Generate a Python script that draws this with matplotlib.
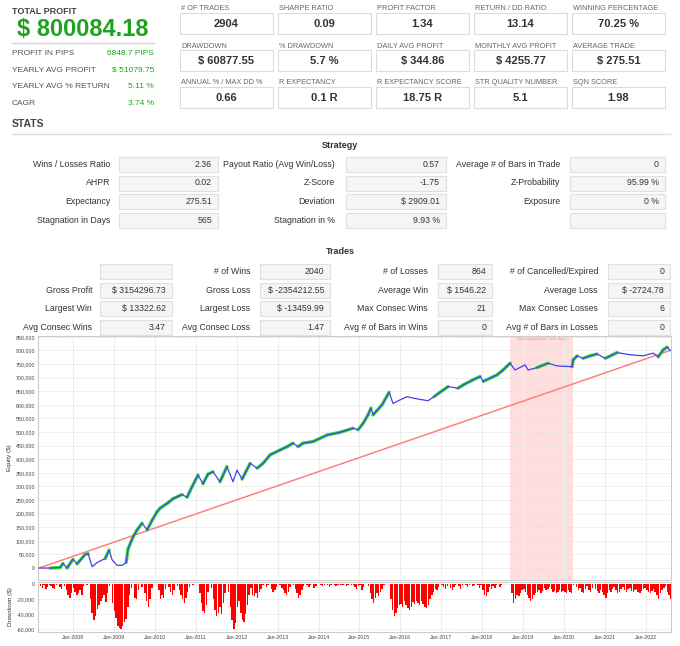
import numpy as np
import pandas as pd
import matplotlib
matplotlib.use("Agg")
import matplotlib.pyplot as plt
import matplotlib.dates as mdates
from matplotlib.patches import Rectangle
from matplotlib.lines import Line2D
from matplotlib.collections import LineCollection
from matplotlib.ticker import FuncFormatter, MultipleLocator

plt.rcParams['font.family'] = ['Liberation Sans', 'DejaVu Sans']

# ---------------- data ----------------
total_profit = "$ 800084.18"
summary_labels = ["PROFIT IN PIPS", "YEARLY AVG PROFIT", "YEARLY AVG % RETURN", "CAGR"]
summary_values = ["6848.7 PIPS", "$ 51079.75", "5.11 %", "3.74 %"]

metric_labels = ["# OF TRADES", "SHARPE RATIO", "PROFIT FACTOR", "RETURN / DD RATIO", "WINNING PERCENTAGE",
                 "DRAWDOWN", "% DRAWDOWN", "DAILY AVG PROFIT", "MONTHLY AVG PROFIT", "AVERAGE TRADE",
                 "ANNUAL % / MAX DD %", "R EXPECTANCY", "R EXPECTANCY SCORE", "STR QUALITY NUMBER", "SQN SCORE"]
metric_values = ["2904", "0.09", "1.34", "13.14", "70.25 %",
                 "$ 60877.55", "5.7 %", "$ 344.86", "$ 4255.77", "$ 275.51",
                 "0.66", "0.1 R", "18.75 R", "5.1", "1.98"]

strategy_labels = [["Wins / Losses Ratio", "Payout Ratio (Avg Win/Loss)", "Average # of Bars in Trade"],
                   ["AHPR", "Z-Score", "Z-Probability"],
                   ["Expectancy", "Deviation", "Exposure"],
                   ["Stagnation in Days", "Stagnation in %", ""]]
strategy_values = [["2.36", "0.57", "0"],
                   ["0.02", "-1.75", "95.99 %"],
                   ["275.51", "$ 2909.01", "0 %"],
                   ["565", "9.93 %", ""]]

trades_labels = [["", "# of Wins", "# of Losses", "# of Cancelled/Expired"],
                 ["Gross Profit", "Gross Loss", "Average Win", "Average Loss"],
                 ["Largest Win", "Largest Loss", "Max Consec Wins", "Max Consec Losses"],
                 ["Avg Consec Wins", "Avg Consec Loss", "Avg # of Bars in Wins", "Avg # of Bars in Losses"]]
trades_values = [["", "2040", "864", "0"],
                 ["$ 3154296.73", "$ -2354212.55", "$ 1546.22", "$ -2724.78"],
                 ["$ 13322.62", "$ -13459.99", "21", "6"],
                 ["3.47", "1.47", "0", "0"]]

equity_dates = ["2007-03-06", "2007-06-13", "2007-09-10", "2007-10-06", "2007-11-11", "2008-01-03",
                "2008-02-08", "2008-04-20", "2008-05-17", "2008-06-22", "2008-08-05", "2008-10-16",
                "2008-11-20", "2008-12-17", "2009-01-30", "2009-03-16", "2009-04-21", "2009-05-08",
                "2009-06-22", "2009-07-28", "2009-09-10", "2009-10-25", "2009-12-08", "2010-01-22",
                "2010-02-18", "2010-04-30", "2010-06-13", "2010-09-02", "2010-10-16", "2010-11-30",
                "2011-01-22", "2011-03-07", "2011-04-21", "2011-06-05", "2011-08-06", "2011-10-07",
                "2011-11-30", "2012-01-05", "2012-02-19", "2012-05-01", "2012-07-02", "2012-08-24",
                "2012-10-26", "2013-01-23", "2013-03-26", "2013-05-19", "2013-07-02", "2013-08-16",
                "2013-11-13", "2014-03-18", "2014-07-12", "2014-11-05", "2014-12-19", "2015-02-02",
                "2015-03-18", "2015-04-14", "2015-05-02", "2015-07-21", "2015-09-22", "2015-10-27",
                "2015-12-28", "2016-02-29", "2016-05-01", "2016-09-03", "2016-10-27", "2016-12-19",
                "2017-03-01", "2017-05-29", "2017-07-13", "2017-10-10", "2017-12-12", "2018-01-08",
                "2018-05-12", "2018-07-04", "2018-09-05", "2018-10-19", "2019-01-17", "2019-02-13",
                "2019-05-04", "2019-08-10", "2019-10-29", "2020-03-11", "2020-03-20", "2020-04-25",
                "2020-06-17", "2020-08-19", "2020-10-20", "2021-01-01", "2021-04-17", "2021-08-11",
                "2021-12-05", "2022-03-04", "2022-04-18", "2022-06-01", "2022-07-07", "2022-08-03"]
equity_k = [0, 0, 2, 17, 0, 32,
            15, 50, 53, 5, 20, 35,
            66, 30, 10, 10, 20, 70,
            115, 140, 165, 140, 175, 207,
            220, 240, 255, 270, 260, 299,
            342, 310, 345, 354, 317, 373,
            317, 360, 327, 385, 367, 385,
            416, 434, 446, 459, 446, 459,
            465, 489, 499, 514, 508, 532,
            563, 588, 563, 600, 646, 605,
            618, 630, 624, 615, 630, 646,
            667, 661, 673, 692, 704, 686,
            710, 728, 753, 728, 747, 728,
            737, 753, 743, 740, 765, 780,
            771, 780, 787, 771, 792, 784,
            780, 790, 776, 802, 812, 800]

dd_start = "2007-03-01"   # semi-monthly drawdown samples, in thousands of $
drawdown_k = [
    # 2007 (Mar-Dec)
    0, 3, 5, 2, 6, 4, 1, 3, 5, 6, 2, 0, 4, 6, 0, 3, 8, 14, 19, 12,
    # 2008
    5, 10, 15, 12, 8, 14, 3, 0, 2, 0, 20, 38, 48, 42, 33, 28, 22, 18, 15, 24, 12, 3, 0, 25,
    # 2009
    36, 45, 55, 58, 60, 56, 50, 46, 30, 15, 5, 0, 18, 20, 8, 0, 4, 0, 12, 22, 30, 20, 5, 0,
    # 2010
    0, 0, 8, 20, 14, 18, 6, 0, 4, 10, 15, 8, 0, 3, 8, 14, 20, 25, 18, 10, 4, 0, 2, 0,
    # 2011
    0, 0, 12, 25, 36, 38, 28, 10, 0, 5, 20, 35, 42, 38, 30, 40, 25, 12, 0, 10, 30, 48, 60, 52,
    # 2012
    30, 22, 38, 48, 50, 40, 28, 15, 5, 14, 16, 12, 18, 10, 6, 2, 0, 4, 2, 0, 6, 10, 8, 4,
    # 2013
    0, 2, 5, 8, 12, 15, 10, 4, 0, 2, 6, 12, 18, 14, 8, 3, 0, 2, 4, 2, 0, 5, 3, 0,
    # 2014
    0, 2, 3, 1, 0, 2, 4, 2, 0, 1, 3, 2, 0, 2, 1, 0, 3, 2, 0, 1, 2, 4, 6, 3,
    # 2015
    2, 8, 4, 0, 0, 3, 12, 20, 25, 18, 12, 16, 10, 6, 2, 0, 0, 0, 20, 35, 42, 38, 32, 28,
    # 2016
    26, 30, 22, 28, 32, 35, 30, 24, 26, 22, 25, 28, 22, 26, 30, 32, 28, 20, 15, 10, 6, 8, 4, 0,
    # 2017
    2, 4, 6, 3, 0, 5, 8, 4, 2, 0, 3, 6, 2, 0, 1, 4, 2, 0, 3, 1, 0, 2, 5, 1,
    # 2018
    8, 14, 16, 10, 4, 6, 3, 5, 2, 0, 4, 2, 0, 0, 0, 0, 0, 12, 25, 20, 14, 16, 12, 8,
    # 2019
    6, 10, 14, 18, 22, 20, 15, 12, 10, 8, 12, 9, 5, 8, 6, 4, 7, 10, 9, 12, 10, 8, 11, 9,
    # 2020
    10, 12, 8, 10, 12, 2, 0, 4, 8, 5, 10, 12, 6, 3, 8, 10, 5, 0, 6, 9, 12, 8, 10, 15,
    # 2021
    18, 12, 8, 10, 6, 4, 8, 12, 10, 6, 4, 8, 10, 7, 5, 9, 11, 8, 6, 10, 12, 9, 7, 5,
    # 2022 (Jan-Aug)
    8, 10, 12, 9, 6, 10, 14, 20, 12, 8, 5, 3, 10, 14, 20, 18,
]

stagnation_start = "2018-09-05"
stagnation_end = "2020-03-22"
stagnation_text = "Max stagnation: 565 days"

# ---------------- figure ----------------
W, H = 680, 646
fig = plt.figure(figsize=(W / 100, H / 100), dpi=100)
fig.patch.set_facecolor("white")


def fx(x):
    return x / W


def fy(y):
    return 1 - y / H


def txt(x, y, s, **kw):
    kw.setdefault("va", "center")
    fig.text(fx(x), fy(y), s, **kw)


def box(x0, y0, x1, y1, fc="white", ec="#dcdcdc"):
    fig.patches.append(Rectangle((fx(x0), fy(y1)), fx(x1) - fx(x0), fy(y0) - fy(y1),
                                 transform=fig.transFigure, facecolor=fc, edgecolor=ec,
                                 linewidth=0.8, zorder=1))


def hline(x0, x1, y, color="#dddddd", lw=1.0):
    fig.lines.append(Line2D([fx(x0), fx(x1)], [fy(y), fy(y)], transform=fig.transFigure,
                            color=color, linewidth=lw))


GREEN = "#1fa31f"

# Total profit block
txt(12, 12, "TOTAL PROFIT", fontsize=6.5, fontweight="bold", color="#444444")
txt(17, 30, total_profit, fontsize=17, fontweight="bold", color=GREEN)
hline(12, 154, 43, color="#d5d5d5")
for i, (lab, val) in enumerate(zip(summary_labels, summary_values)):
    y = 53.5 + i * 16.7
    txt(12, y, lab, fontsize=6, color="#555555")
    txt(154, y, val, fontsize=6, color=GREEN, ha="right")

# metric boxes
col_x = [180, 278, 376, 474, 572]
row_label_y = [9, 46, 83]
for k, (lab, val) in enumerate(zip(metric_labels, metric_values)):
    r, c = divmod(k, 5)
    x0 = col_x[c]
    ly = row_label_y[r]
    txt(x0 + 1, ly, lab, fontsize=5.3, color="#666666")
    box(x0, ly + 4, x0 + 93, ly + 25)
    txt(x0 + 46.5, ly + 15, val, fontsize=8, fontweight="bold", color="#333333", ha="center")

txt(12, 124, "STATS", fontsize=7.5, fontweight="bold", color="#444444")
hline(12, 670, 134)

# Strategy table
txt(340, 145, "Strategy", fontsize=6.5, fontweight="bold", color="#333333", ha="center")
s_box = [(119, 218), (346, 446), (570, 665)]
s_lab = [110, 335, 560]
for r in range(4):
    y = 164.3 + r * 18.7
    for c in range(3):
        box(s_box[c][0], y - 7.5, s_box[c][1], y + 7.5, fc="#f5f5f5", ec="#e0e0e0")
        if strategy_labels[r][c]:
            txt(s_lab[c], y, strategy_labels[r][c], fontsize=6.3, color="#333333", ha="right")
        if strategy_values[r][c]:
            txt(s_box[c][1] - 6, y, strategy_values[r][c], fontsize=6.3, color="#333333", ha="right")

# Trades table
txt(340, 251.5, "Trades", fontsize=6.5, fontweight="bold", color="#333333", ha="center")
t_box = [(100, 172), (260, 330), (438, 492), (608, 670)]
t_lab = [92, 250, 428, 598]
for r in range(4):
    y = 271.7 + r * 18.5
    for c in range(4):
        box(t_box[c][0], y - 7.5, t_box[c][1], y + 7.5, fc="#f5f5f5", ec="#e0e0e0")
        if trades_labels[r][c]:
            txt(t_lab[c], y, trades_labels[r][c], fontsize=6.3, color="#333333", ha="right")
        if trades_values[r][c]:
            txt(t_box[c][1] - 6, y, trades_values[r][c], fontsize=6.3, color="#333333", ha="right")

# ---------------- charts ----------------
eq_dates = mdates.date2num(pd.to_datetime(equity_dates))
eq = np.array(equity_k, dtype=float) * 1000
dd_dates = mdates.date2num(pd.date_range(dd_start, periods=len(drawdown_k), freq="SMS"))
dd = -np.array(drawdown_k, dtype=float) * 1000

xmin = mdates.date2num(pd.Timestamp("2007-02-25"))
xmax = mdates.date2num(pd.Timestamp("2022-08-10"))

ax = fig.add_axes([fx(38), fy(580), fx(671) - fx(38), fy(336) - fy(580)])
ax2 = fig.add_axes([fx(38), fy(632), fx(671) - fx(38), fy(582) - fy(632)])

for a in (ax, ax2):
    a.set_xlim(xmin, xmax)
    for s in a.spines.values():
        s.set_color("#cccccc")
        s.set_linewidth(0.8)
    a.xaxis.set_major_locator(mdates.YearLocator(1, month=1, day=1))
    a.grid(axis="x", color="#eeeeee", linewidth=0.8, linestyle="-")
    a.grid(axis="y", color="#dddddd", linewidth=0.6, linestyle=(0, (1.5, 1.5)))
    a.set_axisbelow(True)
    a.tick_params(labelsize=3.8, colors="#444444", length=0, pad=2)

ax.set_ylim(-44000, 853000)
ax.yaxis.set_major_locator(MultipleLocator(50000))
ax.yaxis.set_major_formatter(FuncFormatter(lambda v, p: f"{int(v):,}" if v >= 0 else ""))
ax.tick_params(axis="x", labelbottom=False)

# stagnation band
s0 = mdates.date2num(pd.Timestamp(stagnation_start))
s1 = mdates.date2num(pd.Timestamp(stagnation_end))
ax.axvspan(s0, s1, color="#ffdede", zorder=0, linewidth=0)
ax.text((s0 + s1) / 2, 842000, stagnation_text, fontsize=3.2, color="#ff8a8a", ha="center", va="center")

# trend line from zero to final equity
ax.plot([eq_dates[0], eq_dates[-1]], [0, eq[-1]], color="#ff8080", linewidth=1.1, zorder=2)

# green highlight on new-high segments
runmax = np.maximum.accumulate(eq)
new_high = eq >= runmax
seg_mask = new_high[1:] & (eq[1:] > eq[:-1])
segs = [[(eq_dates[i], eq[i]), (eq_dates[i + 1], eq[i + 1])] for i in range(len(eq) - 1) if seg_mask[i]]
ax.add_collection(LineCollection(segs, colors="#33dd33", linewidths=2.4, capstyle="round", zorder=3))
ax.plot(eq_dates, eq, color="#4a3cf0", linewidth=0.9, zorder=4)
ax.set_ylabel("Equity ($)", fontsize=4.5, color="#333333", labelpad=3)

# drawdown panel
ax2.bar(dd_dates, dd, width=13, align="edge", color="#ff0000", linewidth=0, zorder=3)
ax2.set_ylim(-63500, 2600)
ax2.set_yticks([0, -20000, -40000, -60000])
ax2.yaxis.set_major_formatter(FuncFormatter(lambda v, p: f"{int(v):,}"))
ax2.xaxis.set_major_formatter(mdates.DateFormatter("%b-%Y"))
ax2.set_ylabel("Drawdown ($)", fontsize=4.5, color="#333333", labelpad=3)

fig.savefig("out.png", dpi=100, facecolor="white")
